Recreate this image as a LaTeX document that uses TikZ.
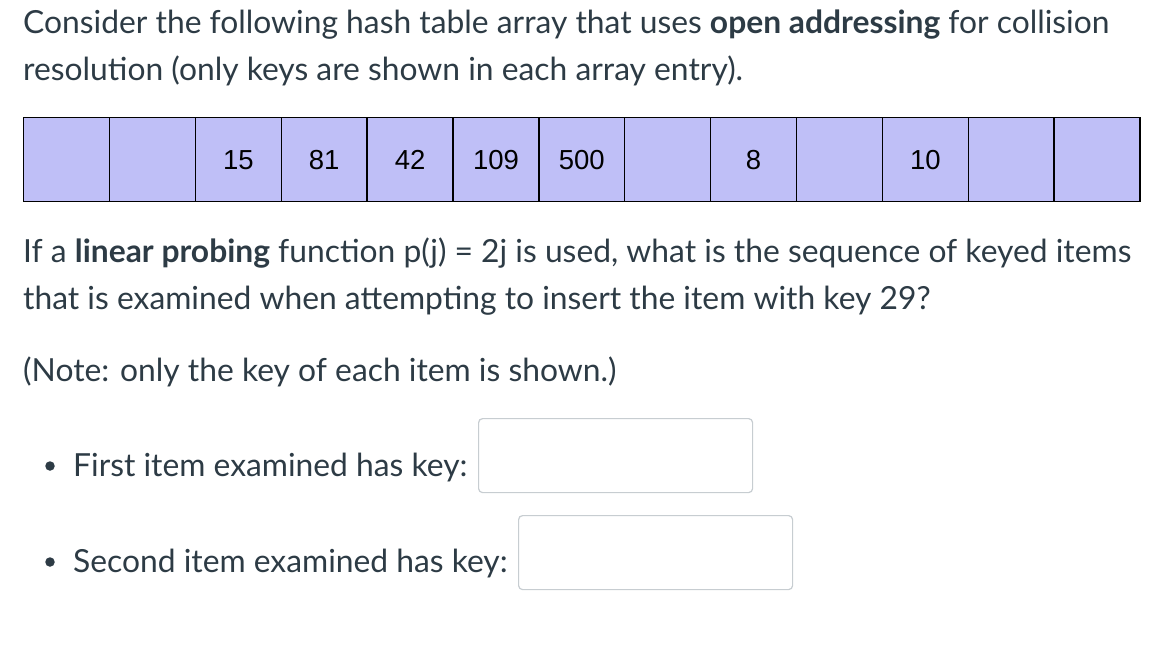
\documentclass[tikz,border=0pt]{standalone}
\usepackage{fontspec}
\setmainfont{Lato}
\newfontfamily\cellfont{Liberation Sans}
\definecolor{canvastext}{HTML}{2D3B45}
\definecolor{cellfill}{HTML}{BFBFF7}
\definecolor{boxline}{HTML}{C7CDD1}
\tikzset{
  txt/.style={anchor=base west, inner sep=0pt, text=canvastext, font=\fontsize{31.8}{38}\selectfont},
  cell/.style={draw=black, line width=1.4pt, fill=cellfill, minimum width=85.87pt, minimum height=84pt, inner sep=0pt, anchor=north west, font=\cellfont\fontsize{27.5}{30}\selectfont, text=black},
  inbox/.style={draw=boxline, line width=1.2pt, rounded corners=4pt, fill=white, anchor=north west, minimum width=274pt, minimum height=74pt, inner sep=0pt},
  bul/.style={circle, fill=canvastext, inner sep=0pt, minimum size=9.5pt}
}
\begin{document}
\begin{tikzpicture}[x=1pt,y=-1pt]
\useasboundingbox (0,0) rectangle (1152,654);
\node[txt] (l1) at (23,33) {Consider the following hash table array that uses \textbf{open addressing} for collision};
\node[txt] (l2) at (23,80) {resolution (only keys are shown in each array entry).};
\foreach \i/\k in {0/,1/,2/15,3/81,4/42,5/109,6/500,7/,8/8,9/,10/10,11/,12/}{
  \node[cell] (c\i) at (23+\i*85.87,117) {\k};
}
\node[txt] (l3) at (23,262) {If a \textbf{linear probing} function p(j) = 2j is used, what is the sequence of keyed items};
\node[txt] (l4) at (23,309) {that is examined when attempting to insert the item with key 29?};
\node[txt] (l5) at (23,381) {(Note: only the key of each item is shown.)};
\node[bul] (b1) at (50,466) {};
\node[txt] (q1) at (73,476) {First item examined has key:};
\node[inbox] (a1) at (478,418) {};
\node[bul] (b2) at (50,562) {};
\node[txt] (q2) at (73,572) {Second item examined has key:};
\node[inbox] (a2) at (518,515) {};
\end{tikzpicture}
\end{document}
